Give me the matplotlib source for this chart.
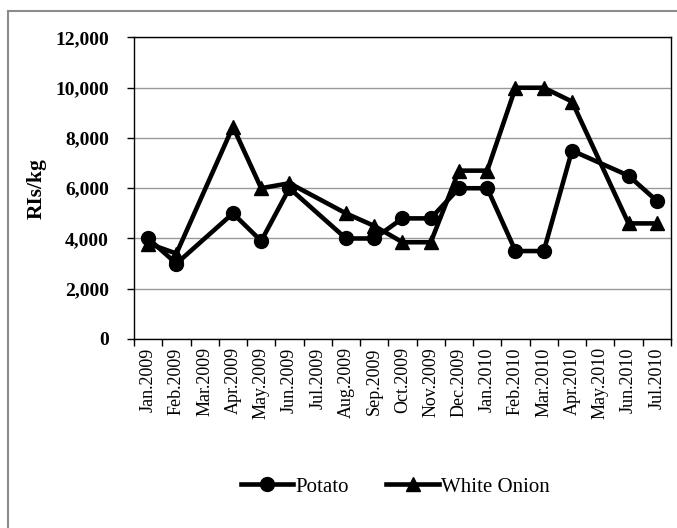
import numpy as np
import matplotlib
matplotlib.use("Agg")
import matplotlib.pyplot as plt
from matplotlib.lines import Line2D
from matplotlib.ticker import FuncFormatter

months = ["Jan.2009", "Feb.2009", "Mar.2009", "Apr.2009", "May.2009", "Jun.2009",
          "Jul.2009", "Aug.2009", "Sep.2009", "Oct.2009", "Nov.2009", "Dec.2009",
          "Jan.2010", "Feb.2010", "Mar.2010", "Apr.2010", "May.2010", "Jun.2010",
          "Jul.2010"]
nan = np.nan
potato = [4000, 3000, nan, 5000, 3900, 6000, nan, 4000, 4000, 4800, 4800, 6000,
          6000, 3500, 3500, 7500, nan, 6500, 5500]
white_onion = [3800, 3400, nan, 8450, 6000, 6200, nan, 5000, 4500, 3850, 3850, 6700,
               6700, 10000, 10000, 9450, nan, 4600, 4600]

plt.rcParams["font.family"] = ["Liberation Serif", "DejaVu Serif"]

fig = plt.figure(figsize=(6.77, 5.28), dpi=100)
ax = fig.add_axes([0.198, 0.358, 0.793, 0.571])

x = np.arange(len(months))


def plot_series(vals, marker, label):
    v = np.array(vals, dtype=float)
    ok = ~np.isnan(v)
    ax.plot(x[ok], v[ok], color="black", lw=3.3, marker=marker, ms=10,
            label=label, zorder=3)


plot_series(potato, "o", "Potato")
plot_series(white_onion, "^", "White Onion")

ax.set_xlim(-0.5, len(months) - 0.5)
ax.set_ylim(0, 12000)
ax.set_yticks(range(0, 12001, 2000))
ax.yaxis.set_major_formatter(FuncFormatter(lambda v, p: f"{int(v):,}"))
ax.yaxis.grid(True, color="#999999", lw=1)
ax.set_axisbelow(True)

ax.set_xticks(x)
ax.set_xticklabels(months, rotation=90, fontsize=13)
ax.set_xticks(np.arange(-0.5, len(months)), minor=True)
ax.tick_params(axis="x", which="major", length=0, pad=6)
ax.tick_params(axis="x", which="minor", length=5, width=1, direction="out")
ax.tick_params(axis="y", length=5, width=1, direction="out", pad=13, labelsize=14)
for lab in ax.get_yticklabels():
    lab.set_fontweight("bold")

for s in ax.spines.values():
    s.set_color("black")
    s.set_linewidth(1)

ax.set_ylabel("RIs/kg", fontsize=15.5, fontweight="bold", labelpad=6)

fig.legend(loc="center", bbox_to_anchor=(0.584, 0.078), ncol=2, frameon=False,
           fontsize=15, handlelength=2.5, handletextpad=0.1, columnspacing=1.8)

# outer chart frame (only top and left visible)
fig.add_artist(Line2D([8 / 677, 8 / 677], [0, 1 - 11 / 528], color="#8c8c8c", lw=1.5,
                      transform=fig.transFigure))
fig.add_artist(Line2D([8 / 677, 1], [1 - 11 / 528, 1 - 11 / 528], color="#8c8c8c", lw=1.5,
                      transform=fig.transFigure))

fig.savefig("out.png", dpi=100)
